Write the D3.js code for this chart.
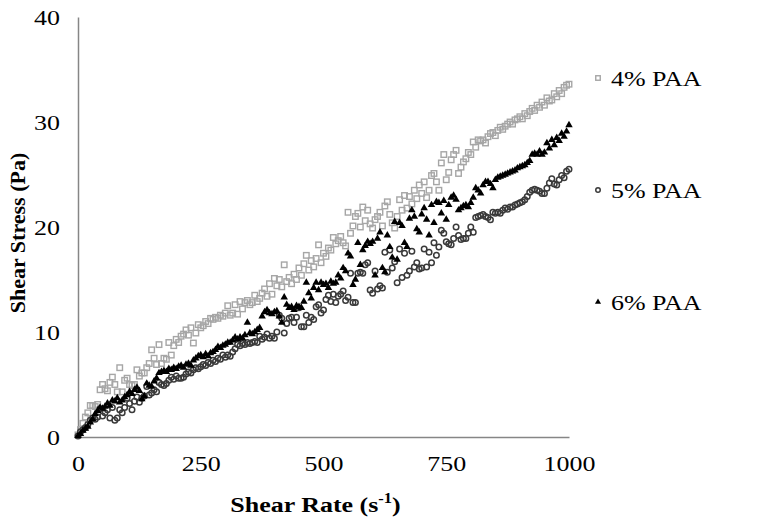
<!DOCTYPE html>
<meta charset="utf-8">
<head>
  <style>
    body { margin: 0; background: #fff; }
    svg text { font-family: "Liberation Serif", "Times New Roman", Times, "DejaVu Serif", serif; fill: #000; }
    .tick text { font-size: 22px; }
    .title { font-size: 22px; font-weight: bold; }
    .legend text { font-size: 22px; }
  </style>
  <script src="https://cdn.jsdelivr.net/npm/d3@7"></script>
</head>
<body></body>
<script>

  // shear rate (1/s), shared by all three series
  var rates = [
    0,5,10,15,20,25,30,35,40,45,50,55,60,65,70,75,80,85,90,95,
    100,105,110,115,120,125,130,135,140,145,150,155,160,165,170,175,180,185,190,195,
    200,205,210,215,220,225,230,235,240,245,250,255,260,265,270,275,280,285,290,295,
    300,305,310,315,320,325,330,335,340,345,350,355,360,365,370,375,380,385,390,395,
    400,405,410,415,420,425,430,435,440,445,450,455,460,465,470,475,480,485,490,495,
    500,505,510,515,520,525,530,535,540,545,550,555,560,565,570,575,580,585,590,595,
    600,605,610,615,620,625,630,635,640,645,650,655,660,665,670,675,680,685,690,695,
    700,705,710,715,720,725,730,735,740,745,750,755,760,765,770,775,780,785,790,795,
    800,805,810,815,820,825,830,835,840,845,850,855,860,865,870,875,880,885,890,895,
    900,905,910,915,920,925,930,935,940,945,950,955,960,965,970,975,980,985,990,995,
    1000];

  // shear stress (Pa)
  var paa4 = [
    0.2,0.7,1.3,1.9,2.3,3.0,3.0,2.9,3.1,4.5, 5.0,4.6,4.4,5.2,5.7,5.0,4.3,6.6,4.3,5.4,
    5.6,5.0,4.9,5.0,6.4,5.8,6.1,6.1,6.6,7.0, 8.3,7.5,6.9,8.8,7.0,7.5,7.4,9.0,7.8,8.7,
    9.3,9.0,9.6,9.8,10.2,9.7,10.4,8.95,9.9,10.7, 10.4,10.6,11.0,10.8,11.3,11.2,11.4,11.3,11.6,11.5,
    11.8,12.5,11.6,11.8,12.6,11.7,12.9,12.2,12.8,13.0, 12.6,12.8,13.5,12.9,13.2,13.7,14.1,13.4,14.6,13.6,
    15.1,14.4,15.0,14.3,16.4,14.8,15.2,14.6,15.5,15.0, 16.1,15.4,16.5,17.3,15.9,16.8,16.2,17.0,18.3,16.6,
    17.5,17.2,18.0,17.8,19.0,18.4,18.7,19.1,18.5,18.2, 21.4,19.4,20.1,21.0,21.3,20.0,21.9,20.6,21.6,20.3,
    19.9,20.7,21.0,21.4,20.1,22.0,22.4,21.2,20.4,19.9, 21.0,22.6,21.6,23.0,21.8,22.9,22.2,23.5,22.7,24.0,
    23.2,24.3,22.8,23.5,24.9,25.1,24.3,23.5,26.1,26.9, 24.5,25.2,26.4,26.9,27.3,25.1,25.7,26.2,26.5,27.1,
    26.9,28.1,27.6,28.3,28.2,28.3,28.0,28.6,28.9,29.0, 28.7,29.2,29.5,29.3,29.6,29.8,30.0,29.8,30.2,30.3,
    30.5,30.3,30.8,30.6,31.0,31.3,31.1,31.6,31.4,31.9, 31.6,32.3,32.0,32.1,32.7,32.4,33.0,32.7,33.3,33.5,
    33.6];

  var paa5 = [
    0.1,0.5,0.7,0.9,1.2,1.6,1.8,1.7,1.9,2.7, 2.0,2.3,2.6,1.8,2.8,1.6,1.8,2.6,2.3,2.8,
    3.7,3.2,2.6,3.4,3.8,3.3,3.7,3.9,4.8,4.0, 4.2,4.5,4.3,5.2,5.0,4.9,5.1,5.4,5.7,5.5,
    5.8,5.6,5.6,5.7,6.0,6.2,6.1,6.4,6.6,6.5, 6.7,6.9,6.8,7.1,7.0,7.3,7.2,7.5,7.4,7.8,
    7.6,7.8,7.7,8.1,8.4,8.8,8.7,8.9,8.8,9.0, 8.9,9.0,9.1,9.0,9.6,9.3,9.5,9.8,9.4,9.6,
    9.4,10.0,11.6,11.3,9.9,10.8,11.3,11.4,10.9,11.4, 12.3,10.5,10.5,11.6,10.9,11.4,11.2,12.4,12.6,11.8,
    12.1,13.1,13.5,12.9,13.6,12.8,13.4,13.6,13.9,13.0, 13.3,15.6,12.8,12.8,15.6,15.7,15.6,16.4,16.6,14.0,
    13.7,15.8,14.1,14.4,14.2,17.6,15.7,17.8,16.1,16.7, 14.7,17.9,15.2,17.5,15.4,15.8,17.7,16.2,16.6,16.0,
    16.1,17.9,16.2,17.6,16.6,18.5,17.3,18.1,19.7,19.4, 18.6,18.4,18.3,18.9,20.0,19.2,18.8,18.9,18.9,19.4,
    20.0,19.5,20.9,21.0,21.1,21.2,21.0,20.9,20.7,21.4, 21.3,21.4,21.3,21.6,21.8,21.7,21.9,21.9,22.1,22.2,
    22.3,22.4,22.6,22.9,23.3,23.5,23.6,23.5,23.4,23.2, 23.2,23.7,24.2,24.6,24.1,24.0,24.5,24.9,24.7,25.3,
    25.5];

  var paa6 = [
    0.1,0.3,0.6,0.8,1.0,1.4,1.7,2.2,2.5,2.8, 2.7,2.9,3.2,3.0,3.5,3.4,3.7,3.3,3.5,3.8,
    4.0,4.3,4.1,4.5,4.7,4.4,3.6,3.9,5.1,4.9, 4.8,5.3,5.6,6.1,6.2,6.3,6.2,6.5,6.4,6.6,
    6.5,6.7,6.8,6.6,6.9,7.0,6.8,7.3,7.5,7.7, 7.8,7.6,7.9,7.7,8.0,8.1,8.3,8.6,8.5,8.7,
    8.8,9.0,9.0,9.2,9.5,9.3,9.5,9.4,9.7,10.9, 9.9,9.8,10.0,10.2,10.4,11.5,11.9,12.1,11.8,11.7,
    11.9,12.0,11.5,10.9,13.3,12.6,12.3,12.4,12.1,12.5, 12.4,12.3,12.9,14.7,13.7,13.2,14.2,14.7,14.0,14.7,
    14.5,14.6,14.2,14.8,14.6,14.7,15.4,15.1,16.1,15.8, 17.5,17.2,14.5,15.0,18.5,16.4,17.8,18.2,18.6,18.4,
    18.6,15.4,18.9,19.5,16.1,15.7,19.2,18.1,17.1,20.5, 16.9,20.4,20.1,18.5,18.1,20.8,21.6,21.0,19.8,19.5,
    21.2,21.8,20.7,19.2,22.1,20.4,22.4,22.3,21.3,22.5, 20.7,22.1,22.8,23.0,22.6,21.6,21.8,22.0,22.1,21.9,
    22.3,22.8,23.7,23.5,23.2,24.0,24.3,24.3,24.1,23.7, 24.5,24.7,24.8,24.9,25.0,25.1,25.2,25.3,25.4,25.6,
    25.7,25.8,25.9,26.1,26.3,26.9,27.0,26.9,27.2,26.9, 27.1,28.0,27.5,28.3,27.8,28.5,28.2,28.9,28.6,29.1,
    29.7];

  var seriesNames = ["4% PAA", "5% PAA", "6% PAA"];
  var xTicks = [0, 250, 500, 750, 1000];
  var yTicks = [0, 10, 20, 30, 40];

  var width = 764,
      height = 522,
      margin = {top: 17, right: 195, bottom: 85, left: 78},
      stretch = 1.18;   // the original type is set a little wide

  var svg = d3.select("body").append("svg")
    .attr("width", width)
    .attr("height", height);

  var x = d3.scaleLinear().domain([0, 1000]).range([margin.left, width - margin.right]);
  var y = d3.scaleLinear().domain([0, 40]).range([height - margin.bottom, margin.top]);

  var axisColor = "#868686";

  var xAxis = svg.append("g")
    .attr("transform", "translate(0," + y(0) + ")")
    .call(d3.axisBottom(x).tickValues(xTicks).tickFormat(d3.format("d")).tickSize(0).tickPadding(18));
  var yAxis = svg.append("g")
    .attr("transform", "translate(" + x(0) + ",0)")
    .call(d3.axisLeft(y).tickValues(yTicks).tickSize(0).tickPadding(18));

  [xAxis, yAxis].forEach(function(g) {
    g.attr("font-family", null).attr("font-size", null);
    g.select(".domain").attr("stroke", axisColor).attr("stroke-width", 1.5);
    g.selectAll(".tick text").attr("transform", "scale(" + stretch + ",1)");
  });
  yAxis.selectAll(".tick text").attr("x", -18 / stretch);

  // titles
  var xt = svg.append("g")
    .attr("transform", "translate(" + ((x(0) + x(1000)) / 2 - 8) + ",512)scale(" + stretch + ",1)")
    .append("text")
    .attr("class", "title")
    .attr("text-anchor", "middle");
  xt.append("tspan").text("Shear Rate (s");
  xt.append("tspan").attr("dy", -9).attr("font-size", 14).text("-1");
  xt.append("tspan").attr("dy", 9).text(")");

  svg.append("text")
    .attr("class", "title")
    .attr("transform", "translate(25," + ((y(0) + y(40)) / 2 + 6) + ")rotate(-90)")
    .attr("text-anchor", "middle")
    .text("Shear Stress (Pa)");

  var series = [
    {name: seriesNames[0], values: paa4, shape: "square"},
    {name: seriesNames[1], values: paa5, shape: "circle"},
    {name: seriesNames[2], values: paa6, shape: "triangle"}
  ];

  function drawMarker(sel, shape, s) {
    if (shape === "square") {
      sel.append("rect")
        .attr("x", -s / 2).attr("y", -s / 2)
        .attr("width", s).attr("height", s)
        .attr("fill", "none").attr("stroke", "#a6a6a6").attr("stroke-width", 1.4);
    } else if (shape === "circle") {
      sel.append("circle")
        .attr("r", s / 2)
        .attr("fill", "none").attr("stroke", "#3a3a3a").attr("stroke-width", 1.5);
    } else {
      sel.append("path")
        .attr("d", d3.symbol(d3.symbolTriangle, s * s * 0.8)())
        .attr("fill", "#000");
    }
  }

  series.forEach(function(s) {
    var g = svg.append("g");
    g.selectAll("g")
      .data(s.values)
     .enter().append("g")
      .attr("transform", function(d, i) { return "translate(" + x(rates[i]) + "," + y(d) + ")"; })
      .each(function() { drawMarker(d3.select(this), s.shape, 5.5); });
  });

  // legend
  var legendY = [78, 190, 302];
  var legend = svg.append("g").attr("class", "legend");
  series.forEach(function(s, i) {
    var item = legend.append("g").attr("transform", "translate(598," + legendY[i] + ")");
    drawMarker(item, s.shape, 4.5);
    item.append("text")
      .attr("transform", "translate(13,0)scale(" + stretch + ",1)")
      .attr("dy", "0.35em")
      .text(s.name);
  });

</script>
